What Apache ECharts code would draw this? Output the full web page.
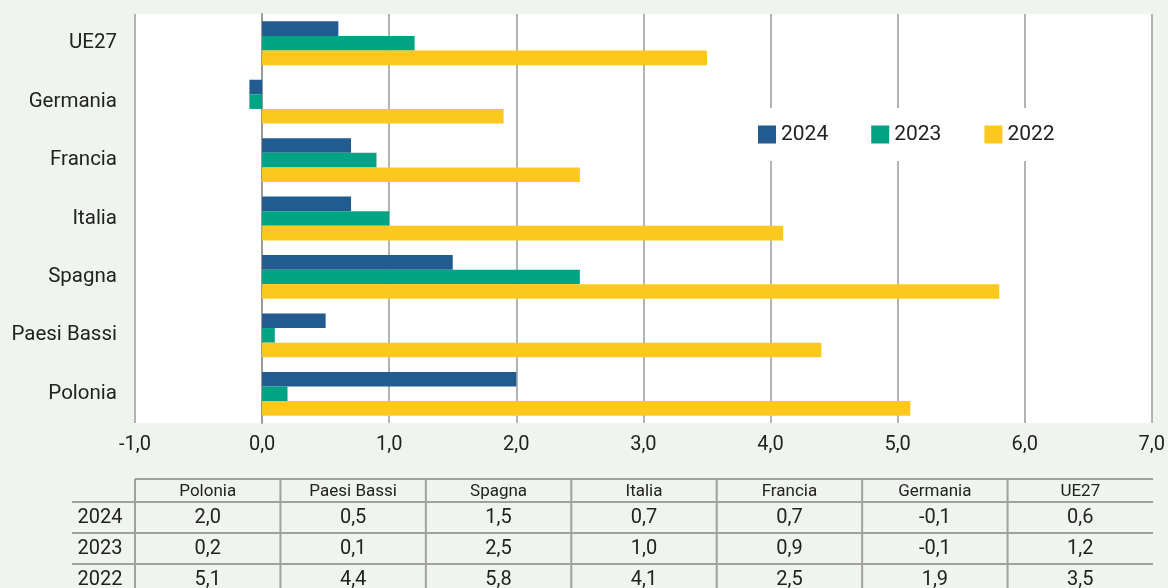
<!DOCTYPE html>
<html>
<head>
<meta charset="utf-8">
<script src="https://cdn.jsdelivr.net/npm/echarts@6/dist/echarts.min.js"></script>
<style>
  html, body { margin: 0; padding: 0; background: #f0f4ee; }
  #chart { width: 1168px; height: 588px; }
</style>
</head>
<body>
<div id="chart"></div>
<script>
// paesi, dal basso verso l'alto (stesso ordine delle colonne della tabella)
var paesi = ['Polonia', 'Paesi Bassi', 'Spagna', 'Italia', 'Francia', 'Germania', 'UE27'];
var anni = ['2024', '2023', '2022'];
var val2024 = [2.0, 0.5, 1.5, 0.7, 0.7, -0.1, 0.6];
var val2023 = [0.2, 0.1, 2.5, 1.0, 0.9, -0.1, 1.2];
var val2022 = [5.1, 4.4, 5.8, 4.1, 2.5, 1.9, 3.5];
var colori = { '2024': '#215b8f', '2023': '#00a383', '2022': '#fdc81d' };

var myChart = echarts.init(document.getElementById('chart'));

function fmt(v) {
    return v.toFixed(1).replace('.', ',');
}

// geometria della tabella sotto il grafico
var gLeft = 135, gRight = 1153;
var colW = (gRight - gLeft) / paesi.length;
var tabTop = 479, headH = 23, rowH = 31;
var lineCol = '#a0a0a0';
var testo = '#222';

function buildTable() {
    var els = [];
    var righe = { '2024': val2024, '2023': val2023, '2022': val2022 };
    // linea superiore (solo sopra le colonne)
    els.push({ type: 'line', shape: { x1: gLeft, y1: tabTop, x2: gRight, y2: tabTop },
        style: { stroke: lineCol, lineWidth: 2 } });
    // linee orizzontali delle righe
    for (let r = 0; r < anni.length; r++) {
        let y = tabTop + headH + r * rowH;
        els.push({ type: 'line', shape: { x1: 72, y1: y, x2: gRight, y2: y },
            style: { stroke: lineCol, lineWidth: 2 } });
    }
    // separatori verticali
    for (let c = 0; c < paesi.length; c++) {
        let x = gLeft + c * colW;
        els.push({ type: 'line', shape: { x1: x, y1: tabTop, x2: x, y2: 600 },
            style: { stroke: lineCol, lineWidth: 2 } });
    }
    // intestazioni
    for (let c = 0; c < paesi.length; c++) {
        els.push({ type: 'text', x: gLeft + (c + 0.5) * colW, y: tabTop + headH / 2 + 1,
            style: { text: paesi[c], fill: testo, font: '17px Roboto', align: 'center', verticalAlign: 'middle' } });
    }
    // righe dei valori
    for (let r = 0; r < anni.length; r++) {
        let yc = tabTop + headH + r * rowH + rowH / 2;
        els.push({ type: 'text', x: 100, y: yc,
            style: { text: anni[r], fill: testo, font: '20px Roboto', align: 'center', verticalAlign: 'middle' } });
        let vals = righe[anni[r]];
        for (let c = 0; c < paesi.length; c++) {
            els.push({ type: 'text', x: gLeft + (c + 0.5) * colW, y: yc,
                style: { text: fmt(vals[c]), fill: testo, font: '20px Roboto', align: 'center', verticalAlign: 'middle' } });
        }
    }
    return els;
}

function barSeries(anno, dati) {
    return {
        name: anno,
        type: 'bar',
        data: dati,
        barGap: 0,
        barCategoryGap: '25%',
        itemStyle: { color: colori[anno] },
        emphasis: { disabled: true }
    };
}

var option = {
    backgroundColor: '#f0f4ee',
    animation: false,
    textStyle: { fontFamily: 'Roboto' },
    grid: {
        left: gLeft, right: 1168 - gRight, top: 14, bottom: 588 - 423,
        show: true, backgroundColor: '#ffffff', borderWidth: 0
    },
    legend: {
        data: anni,
        left: 738, top: 108,
        padding: [16, 20],
        backgroundColor: '#ffffff',
        icon: 'rect',
        itemWidth: 18, itemHeight: 18,
        itemGap: 43,
        textStyle: { fontSize: 21, color: testo, fontFamily: 'Roboto' }
    },
    xAxis: {
        type: 'value',
        min: -1, max: 7, interval: 1,
        axisLine: { show: false },
        axisTick: { show: false },
        splitLine: { show: true, lineStyle: { color: '#9a9a9a', width: 1.5 } },
        axisLabel: { formatter: fmt, fontSize: 20, color: testo, margin: 12, fontFamily: 'Roboto' }
    },
    yAxis: {
        type: 'category',
        data: paesi,
        axisLine: { show: true, lineStyle: { color: '#9a9a9a', width: 2 } },
        axisTick: { show: false },
        axisLabel: { fontSize: 20.5, color: testo, margin: 18, fontFamily: 'Roboto', padding: [4, 0, 0, 0] }
    },
    // nei gruppi orizzontali la prima serie sta in alto
    series: [
        barSeries('2024', val2024),
        barSeries('2023', val2023),
        barSeries('2022', val2022)
    ],
    graphic: buildTable()
};

myChart.setOption(option);
</script>
</body>
</html>
